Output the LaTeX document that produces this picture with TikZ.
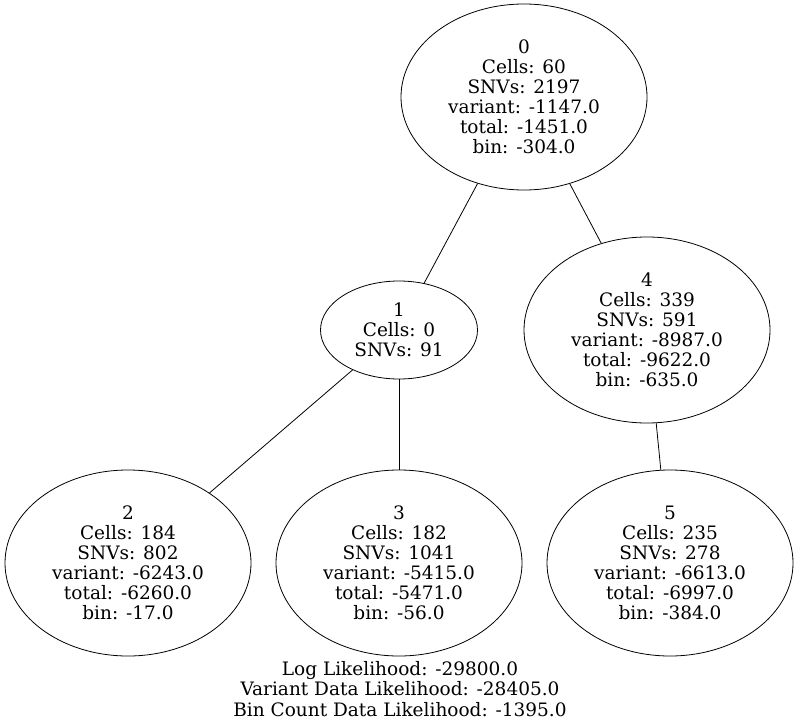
\documentclass[tikz,border=0pt]{standalone}
\usepackage{fontspec}
\setmainfont{DejaVu Serif}
\usetikzlibrary{shapes.geometric}

\begin{document}
\begin{tikzpicture}[
    x = 1pt,
    y = -1pt,
    line width = 0.8pt,
    ]

    \tikzstyle{every clone}=[
    ellipse,
    draw = black,
    inner sep = 0pt,
    align = center,
    font = \fontsize{18.5}{20}\selectfont,
    minimum width = 246pt,
    minimum height = 186pt,
    ]
    \tikzstyle{small clone}=[
    every clone,
    minimum width = 157pt,
    minimum height = 98pt,
    ]

    \useasboundingbox (0,0) rectangle (799,727);

    \node[every clone] (c0) at (524,97) {0\\Cells: 60\\SNVs: 2197\\variant: -1147.0\\total: -1451.0\\bin: -304.0};
    \node[small clone] (c1) at (399,330) {1\\Cells: 0\\SNVs: 91};
    \node[every clone] (c4) at (647,330) {4\\Cells: 339\\SNVs: 591\\variant: -8987.0\\total: -9622.0\\bin: -635.0};
    \node[every clone] (c2) at (128,563) {2\\Cells: 184\\SNVs: 802\\variant: -6243.0\\total: -6260.0\\bin: -17.0};
    \node[every clone] (c3) at (399,563) {3\\Cells: 182\\SNVs: 1041\\variant: -5415.0\\total: -5471.0\\bin: -56.0};
    \node[every clone] (c5) at (670,563) {5\\Cells: 235\\SNVs: 278\\variant: -6613.0\\total: -6997.0\\bin: -384.0};

    \node[align=center, inner sep=0pt, font=\fontsize{18.5}{20.5}\selectfont] (score) at (400,689)
    {Log Likelihood: -29800.0\\Variant Data Likelihood: -28405.0\\Bin Count Data Likelihood: -1395.0};

    \path (c0) edge (c1);
    \path (c0) edge (c4);
    \path (c1) edge (c2);
    \path (c1) edge (c3);
    \path (c4) edge (c5);
  \end{tikzpicture}
\end{document}
